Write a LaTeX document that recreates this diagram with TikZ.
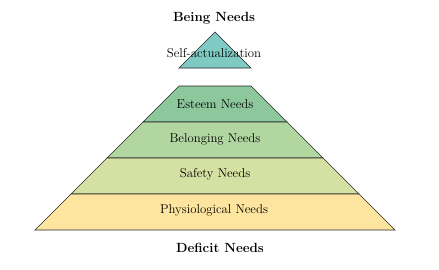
\documentclass[tikz,border=0pt]{standalone}
\begin{document}
\begin{tikzpicture}[x=1pt,y=1pt,
  layer/.style={draw=black!85,line width=0.7pt,line join=miter},
  lbl/.style={font=\fontsize{12.8}{14}\selectfont,inner sep=0pt},
  ttl/.style={font=\fontsize{13.3}{15}\selectfont\bfseries,inner sep=0pt}]
\useasboundingbox (0,0) rectangle (439,269);
\definecolor{cSelf}{HTML}{7FCAC3}
\definecolor{cEst}{HTML}{8DC79C}
\definecolor{cBel}{HTML}{B2D6A0}
\definecolor{cSaf}{HTML}{D5E0A3}
\definecolor{cPhy}{HTML}{FDE5A0}
% layers
\filldraw[layer,fill=cSelf] (215,237) -- (251,201) -- (179,201) -- cycle;
\filldraw[layer,fill=cEst] (179,183) -- (251,183) -- (287,147) -- (143,147) -- cycle;
\filldraw[layer,fill=cBel] (143,147) -- (287,147) -- (323,111) -- (107,111) -- cycle;
\filldraw[layer,fill=cSaf] (107,111) -- (323,111) -- (359,75) -- (71,75) -- cycle;
\filldraw[layer,fill=cPhy] (71,75) -- (359,75) -- (395,39) -- (35,39) -- cycle;
% labels
\node[ttl] (being) at (214,251) {Being Needs};
\node[lbl] (self) at (214,216) {Self-actualization};
\node[lbl] (est) at (215,165) {Esteem Needs};
\node[lbl] (bel) at (215,130) {Belonging Needs};
\node[lbl] (saf) at (215,95) {Safety Needs};
\node[lbl] (phy) at (214,59) {Physiological Needs};
\node[ttl] (def) at (220,21) {Deficit Needs};
\end{tikzpicture}
\end{document}
